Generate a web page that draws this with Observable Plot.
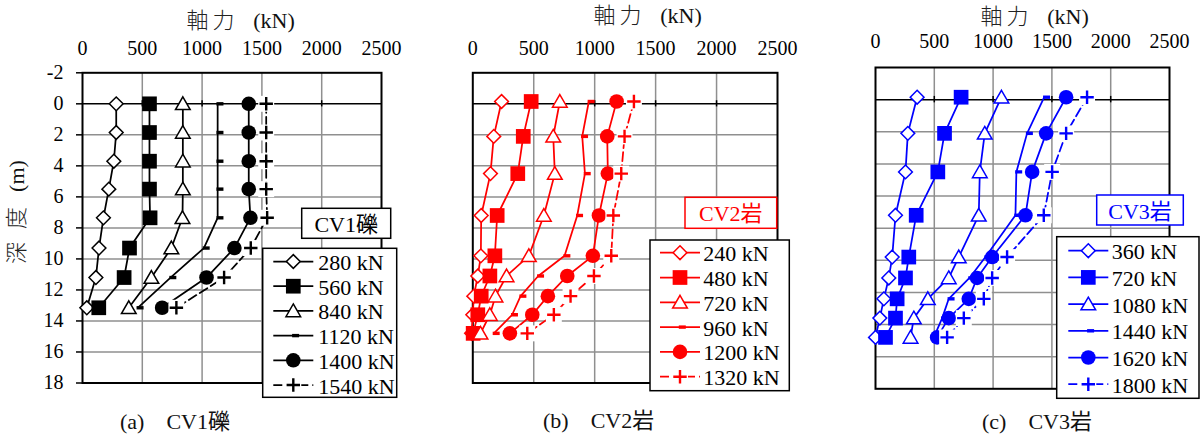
<!DOCTYPE html>
<html><head><meta charset="utf-8">
<script src="https://cdn.jsdelivr.net/npm/d3@7"></script>
<script src="https://cdn.jsdelivr.net/npm/@observablehq/plot@0.6"></script>
<style>
body{margin:0;background:#fff;}
#wrap{position:relative;width:1200px;height:436px;overflow:hidden;font-family:"Liberation Serif","Noto Sans CJK JP",serif;}
.panel{position:absolute;top:0;}
#overlay{position:absolute;left:0;top:0;}
</style></head><body><div id="wrap"></div>
<script>
// ---------- data ----------
const depthsA  = [0, 1.85, 3.7, 5.5, 7.35, 9.3, 11.2, 13.15];
const depthsBC = [-0.15, 2.1, 4.5, 7.2, 9.8, 11.1, 12.4, 13.6, 14.8];
const xTicks = [0, 500, 1000, 1500, 2000, 2500];
const yTicks = [-2, 0, 2, 4, 6, 8, 10, 12, 14, 16, 18];

// (a) CV1礫
const labelsA = ["280 kN", "560 kN", "840 kN", "1120 kN", "1400 kN", "1540 kN"];
const a280  = [282, 282, 262, 220, 175, 138, 112, 36];
const a560  = [560, 560, 560, 560, 565, 393, 348, 136];
const a840  = [839, 839, 839, 839, 836, 743, 576, 387];
const a1120 = [1130, 1130, 1130, 1130, 1130, 1015, 736, 462];
const a1400 = [1390, 1390, 1390, 1390, 1404, 1270, 1037, 666];
const a1540 = [1536, 1536, 1536, 1536, 1544, 1407, 1184, 785];

// (b) CV2岩
const labelsB = ["240 kN", "480 kN", "720 kN", "960 kN", "1200 kN", "1320 kN"];
const b240  = [236, 172, 145, 69, 66, 41, 8, 0, -10];
const b480  = [479, 414, 369, 200, 181, 140, 69, 41, 3];
const b720  = [714, 660, 673, 583, 460, 277, 186, 140, 63];
const b960  = [952, 898, 920, 857, 753, 537, 392, 323, 173];
const b1200 = [1180, 1103, 1108, 1035, 985, 775, 616, 488, 304];
const b1320 = [1322, 1245, 1218, 1153, 1136, 994, 802, 665, 447];

// (c) CV3岩
const labelsC = ["360 kN", "720 kN", "1080 kN", "1440 kN", "1620 kN", "1800 kN"];
const c360  = [354, 275, 255, 170, 142, 113, 71, 37, 0];
const c720  = [728, 587, 530, 346, 283, 255, 184, 170, 85];
const c1080 = [1071, 929, 887, 878, 708, 623, 445, 326, 298];
const c1440 = [1435, 1289, 1198, 1190, 935, 799, 623, 567, 496];
const c1620 = [1621, 1451, 1332, 1275, 992, 864, 793, 623, 524];
const c1800 = [1799, 1621, 1502, 1431, 1119, 992, 921, 751, 609];

// ---------- helpers ----------
const FONT = '"Liberation Serif","Noto Sans CJK JP",serif';
const dashSymbol = {draw(ctx) { ctx.rect(-1.2, -1.7, 7, 3.4); }};
const R = {diamond: 6.2, square: 8.3, triangle: 7, circle: 7.3, plus: 4.4, under: 9};

function rowsOf(depths, vals) { return vals.map((f, k) => ({d: depths[k], f})); }

function markerMarks(rows, i, color) {
  const o = {x: "f", y: "d"};
  switch (i) {
    case 0: return [Plot.dot(rows, {...o, symbol: "diamond2", r: R.diamond, fill: "white", stroke: color, strokeWidth: 1.5})];
    case 1: return [Plot.dot(rows, {...o, symbol: "square", r: R.square, fill: color, stroke: "none"})];
    case 2: return [Plot.dot(rows, {...o, symbol: "triangle2", r: R.triangle, dy: 1.5, fill: "white", stroke: color, strokeWidth: 1.5})];
    case 3: return [Plot.dot(rows, {...o, symbol: dashSymbol, r: 4, fill: color, stroke: "none"})];
    case 4: return [Plot.dot(rows, {...o, symbol: "circle", r: R.circle, fill: color, stroke: "none"})];
    default: return [
      Plot.dot(rows, {...o, symbol: "square", r: R.under, fill: "white", stroke: "none"}),
      Plot.dot(rows, {...o, symbol: "plus", r: R.plus, fill: "none", stroke: color, strokeWidth: 2.4})
    ];
  }
}

function makePanel({left, series, depths, color, mTop, mBottom, mLeft, mRight, yAxis, tickPad}) {
  const marks = [
    Plot.gridX([500, 1000, 1500, 2000], {stroke: "#8f8f8f", strokeOpacity: 1, strokeWidth: 1.5}),
    Plot.gridY([2, 4, 6, 8, 10, 12, 14, 16], {stroke: "#8f8f8f", strokeOpacity: 1, strokeWidth: 1.5}),
    Plot.ruleY([0], {stroke: "black", strokeWidth: 1.5}),
    Plot.ruleX([500, 1000, 1500, 2000], {y1: -0.2, y2: 0.2, stroke: "black", strokeWidth: 1.5}),
    Plot.frame({stroke: "black", strokeWidth: 2}),
    Plot.axisX(xTicks, {anchor: "top", tickSize: 0, tickPadding: tickPad, fontSize: 20, label: null, tickFormat: d => String(d)})
  ];
  if (yAxis) marks.push(Plot.axisY(yTicks, {anchor: "left", tickSize: 6, tickPadding: 13, fontSize: 20, label: null, tickFormat: d => String(d), strokeWidth: 1.5}));
  const all = series.map(v => rowsOf(depths, v));
  all.forEach((rows, i) => {
    marks.push(Plot.line(rows, {x: "f", y: "d", stroke: color, strokeWidth: 1.75, strokeDasharray: i === 5 ? "9,4" : null}));
  });
  all.forEach((rows, i) => marks.push(...markerMarks(rows, i, color)));
  const p = Plot.plot({
    width: 400, height: 400,
    marginTop: mTop, marginBottom: mBottom, marginLeft: mLeft, marginRight: mRight,
    x: {domain: [0, 2500], axis: null},
    y: {domain: [-2, 18], reverse: true, axis: null},
    style: {fontFamily: FONT, fontSize: "20px", color: "black", background: "transparent", overflow: "visible"},
    marks
  });
  const div = document.createElement("div");
  div.className = "panel";
  div.style.left = left + "px";
  div.appendChild(p);
  document.getElementById("wrap").appendChild(div);
}

makePanel({left: 0, series: [a280, a560, a840, a1120, a1400, a1540], depths: depthsA, color: "#000000",
  mTop: 72.3, mBottom: 17.5, mLeft: 82, mRight: 19, yAxis: true, tickPad: 18});
makePanel({left: 400, series: [b240, b480, b720, b960, b1200, b1320], depths: depthsBC, color: "#ff0000",
  mTop: 72.3, mBottom: 17.5, mLeft: 72.3, mRight: 23, yAxis: false, tickPad: 18});
makePanel({left: 800, series: [c360, c720, c1080, c1440, c1620, c1800], depths: depthsBC, color: "#0000ff",
  mTop: 67, mBottom: 11.7, mLeft: 75, mRight: 31, yAxis: false, tickPad: 19.5});

// ---------- overlay: titles, captions, boxes, legends ----------
const svg = d3.select("#wrap").append("svg").attr("id", "overlay")
  .attr("width", 1200).attr("height", 436).style("font-family", FONT);

function txt(x, y, s, opt = {}) {
  return svg.append("text").attr("x", x).attr("y", y).text(s)
    .attr("font-size", opt.size || 22).attr("fill", opt.fill || "#111")
    .attr("font-weight", opt.weight || null)
    .attr("transform", opt.transform || null)
    .attr("text-anchor", opt.anchor || "middle").attr("dominant-baseline", "central")
    .style("white-space", "pre");
}

// axis titles "軸 力 (kN)" (pieces spaced as in the reference)
function axisTitle(cx, cy) {
  txt(cx - 43.5, cy, "軸", {weight: 300, fill: "#222"});
  txt(cx - 17.5, cy, "力", {weight: 300, fill: "#222"});
  txt(cx + 33, cy, "(kN)", {fill: "#111"});
}
axisTitle(241, 20);
axisTitle(648, 15);
axisTitle(1035, 16);

// y label "深 度 (m)"
txt(0, 0, "深", {weight: 300, fill: "#222", transform: "translate(16.7,253) rotate(-90)"});
txt(0, 0, "度", {weight: 300, fill: "#222", transform: "translate(16.7,218) rotate(-90)"});
txt(0, 0, "(m)", {fill: "#111", transform: "translate(16.7,176) rotate(-90)"});

// captions
txt(120, 421, "(a)　CV1礫", {anchor: "start"});
txt(543, 420, "(b)　CV2岩", {anchor: "start"});
txt(982, 421, "(c)　CV3岩", {anchor: "start"});

// name boxes
function nameBox(x0, y0, x1, y1, s, color) {
  svg.append("rect").attr("x", x0).attr("y", y0).attr("width", x1 - x0).attr("height", y1 - y0)
    .attr("fill", "white").attr("stroke", color).attr("stroke-width", 1.5);
  txt((x0 + x1) / 2, (y0 + y1) / 2 + 1, s, {fill: color, size: 22});
}
nameBox(301.7, 208.3, 390.7, 238.3, "CV1礫", "#000");
nameBox(685, 197.3, 776.7, 228.3, "CV2岩", "#ff0000");
nameBox(1096.7, 195, 1183.3, 225, "CV3岩", "#0000ff");

// legends
function legendMarker(i, x, y, color) {
  const g = svg.append("g").attr("transform", `translate(${x},${y})`);
  const sym = (t, r) => d3.symbol(t, Math.PI * r * r)();
  if (i === 0) g.append("path").attr("d", sym(d3.symbolDiamond2, R.diamond)).attr("fill", "white").attr("stroke", color).attr("stroke-width", 1.5);
  if (i === 1) g.append("path").attr("d", sym(d3.symbolSquare, R.square)).attr("fill", color);
  if (i === 2) g.append("path").attr("d", sym(d3.symbolTriangle2, R.triangle)).attr("transform", "translate(0,1.5)").attr("fill", "white").attr("stroke", color).attr("stroke-width", 1.5);
  if (i === 3) g.append("path").attr("d", "M-1.2,-1.7h7v3.4h-7Z").attr("fill", color);
  if (i === 4) g.append("path").attr("d", sym(d3.symbolCircle, R.circle)).attr("fill", color);
  if (i === 5) {
    g.append("path").attr("d", sym(d3.symbolSquare, R.under)).attr("fill", "white");
    g.append("path").attr("d", sym(d3.symbolPlus, R.plus)).attr("fill", "none").attr("stroke", color).attr("stroke-width", 2.4);
  }
}
function legend({x0, y0, x1, y1, first, step, lx0, lx1, tx, labels, color}) {
  svg.append("rect").attr("x", x0).attr("y", y0).attr("width", x1 - x0).attr("height", y1 - y0)
    .attr("fill", "white").attr("stroke", "black").attr("stroke-width", 1.5);
  labels.forEach((s, i) => {
    const y = first + i * step;
    svg.append("line").attr("x1", lx0).attr("x2", lx1).attr("y1", y).attr("y2", y)
      .attr("stroke", color).attr("stroke-width", 1.75).attr("stroke-dasharray", i === 5 ? "9,4" : null);
    legendMarker(i, (lx0 + lx1) / 2, y, color);
    txt(tx, y + 1, s, {anchor: "start", size: 22, fill: "#000"});
  });
}
legend({x0: 262.7, y0: 248.3, x1: 396.7, y1: 397.3, first: 261.5, step: 24.7, lx0: 273.3, lx1: 313.3, tx: 318.3, labels: labelsA, color: "#000"});
legend({x0: 650, y0: 240, x1: 789.3, y1: 390.7, first: 252.7, step: 24.8, lx0: 660, lx1: 700, tx: 703.3, labels: labelsB, color: "#ff0000"});
legend({x0: 1056.7, y0: 236.7, x1: 1199, y1: 398.3, first: 250.7, step: 26.7, lx0: 1068.3, lx1: 1108.3, tx: 1111.7, labels: labelsC, color: "#0000ff"});
</script></body></html>
